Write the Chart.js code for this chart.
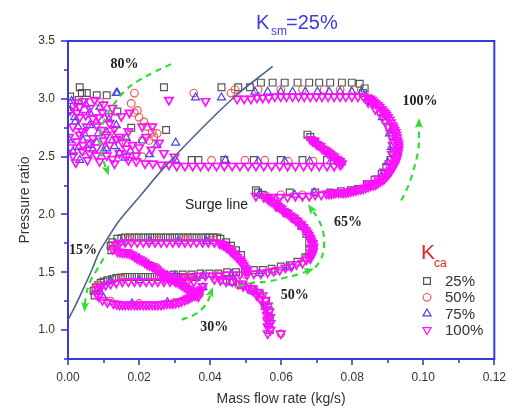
<!DOCTYPE html>
<html><head><meta charset="utf-8">
<script src="https://cdn.jsdelivr.net/npm/chart.js@4.4.0/dist/chart.umd.min.js"></script>
<style>html,body{margin:0;padding:0;background:#fff;}canvas{display:block;}</style>
</head><body>
<canvas id="c" width="517" height="410"></canvas>
<script>
// ---------- data ----------
const seriesNames = ['25%', '50%', '75%', '100%'];
const xTickLabels = ['0.00','0.02','0.04','0.06','0.08','0.10','0.12'];
const yTickLabels = ['1.0','1.5','2.0','2.5','3.0','3.5'];

// surge line [mass flow, pressure ratio]
const surgeLine = [[0.0000,1.09],[0.0019,1.20],[0.0042,1.35],[0.0067,1.52],[0.0089,1.68],[0.0117,1.82],[0.0145,1.95],[0.0192,2.12],[0.0284,2.45],[0.0459,2.99],[0.0576,3.28]];

// K_ca = 25% (squares)
const kca25 = [
[.0033,3.10],[.0270,3.10],[.0432,3.10],[.0479,3.10],[.0512,3.10],[.0543,3.14],[.0576,3.14],[.0610,3.14],[.0646,3.14],[.0679,3.14],[.0707,3.14],[.0738,3.14],[.0771,3.14],[.0799,3.14],[.0821,3.13],
[.0039,3.05],[.0053,3.05],[.0006,3.02],[.0081,3.03],[.0109,3.03],[.0139,2.89],[.0178,2.75],[.0276,2.73],[.0017,2.93],[.0030,2.99],
[.0841,2.26],[.0863,2.30],[.0883,2.35],[.0896,2.41],[.0908,2.47],[.0916,2.54],[.0916,2.61],[.0913,2.68],[.0905,2.75],[.0894,2.82],[.0880,2.89],[.0863,2.95],[.0846,2.99],[.0830,3.05],[.0835,3.09],
[.0535,2.19],[.0624,2.19],[.0696,2.19],[.0738,2.19],[.0768,2.20],[.0796,2.21],[.0816,2.22],[.0529,2.21],
[.0548,2.17],[.0571,2.12],[.0593,2.06],[.0615,2.01],[.0638,1.96],[.0657,1.90],[.0671,1.83],[.0679,1.76],[.0679,1.69],[.0668,1.63],
[.0298,1.48],[.0323,1.48],[.0348,1.48],[.0373,1.49],[.0398,1.49],[.0423,1.49],[.0448,1.50],[.0473,1.50],[.0498,1.51],[.0523,1.52],[.0548,1.52],[.0573,1.53],[.0599,1.55],[.0624,1.56],[.0646,1.59],
[.0568,1.00],[.0568,1.09],[.0565,1.17],[.0557,1.25],[.0540,1.31],[.0518,1.35],[.0493,1.39],[.0465,1.42],[.0437,1.43],
[.0120,1.73],[.0125,1.76],[.0139,1.79],[.0161,1.80],[.0187,1.80],[.0212,1.80],[.0237,1.80],[.0262,1.80],[.0287,1.80],[.0312,1.80],[.0337,1.80],[.0362,1.80],[.0387,1.80],[.0409,1.80],[.0429,1.79],[.0445,1.76],[.0459,1.73],[.0473,1.69],[.0487,1.65],
[.0150,1.795],[.0174,1.80],[.0199,1.80],[.0225,1.80],[.0250,1.80],[.0275,1.80],[.0300,1.80],[.0325,1.80],[.0350,1.80],[.0375,1.80],[.0398,1.80],[.0420,1.80],
[.0362,1.46],[.0337,1.46],[.0312,1.46],[.0287,1.46],[.0262,1.46],[.0237,1.46],[.0212,1.46],[.0187,1.46],[.0161,1.46],[.0136,1.45],[.0111,1.43],[.0092,1.41],[.0078,1.37],[.0072,1.34],[.0075,1.30],[.0122,1.69],
[.0149,1.455],[.0174,1.46],[.0199,1.46],[.0225,1.46],[.0250,1.46],[.0275,1.46],[.0300,1.46],[.0325,1.46],[.0350,1.46],[.0124,1.44],[.0100,1.42],[.0085,1.39],
[.0674,2.69],[.0682,2.67],[.0696,2.63],
[.0348,2.47],[.0367,2.47],[.0440,2.47],[.0523,2.47],[.0599,2.47],[.0660,2.47],[.0729,2.47],[.0760,2.46]
];

// K_ca = 50% (circles)
const kca50 = [
[.0187,3.05],[.0178,2.96],[.0195,2.90],[.0187,2.88],[.0200,2.84],[.0214,2.80],[.0223,2.76],[.0237,2.71],[.0242,2.67],[.0209,2.64],[.0228,2.64],[.0251,2.70],
[.0089,2.97],[.0164,2.62],[.0209,2.50],[.0042,2.55],[.0120,2.72],
[.0354,3.05],[.0459,3.05],[.0470,3.08],[.0535,3.08],[.0599,3.08],[.0660,3.08],[.0721,3.08],[.0766,3.08],[.0805,3.08],
[.0599,2.17],[.0660,2.17],[.0557,2.16],
[.0404,2.47],[.0498,2.47],[.0554,2.47],[.0620,2.46],[.0690,2.46],
[.0078,1.36],[.0084,1.39],[.0131,1.72],[.0136,1.74],
[.0599,0.97],
[.0340,1.46],[.0420,1.47],[.0500,1.48],[.0580,1.51],
[.0560,1.10],[.0540,1.28],[.0480,1.39],
[.0590,2.08],[.0650,1.93],[.0686,1.75],[.0670,1.62],
[.0170,1.78],[.0250,1.78],[.0330,1.78],[.0410,1.78],[.0460,1.70],
[.0150,1.44],[.0250,1.44],[.0330,1.44],[.0120,1.25],[.0200,1.23],[.0300,1.24],[.0370,1.31],
[.0170,1.66],[.0250,1.54],[.0330,1.38],
[.0690,2.64],[.0740,2.53],
[.0870,2.28],[.0905,2.40],[.0920,2.55],[.0915,2.70],[.0890,2.87],[.0850,3.00]
];

// K_ca = 75% (triangles)
const kca75 = [
[.0136,3.05],[.0139,3.05],[.0006,2.90],[.0019,2.84],[.0061,2.88],[.0028,2.76],[.0061,2.77],[.0109,2.71],[.0136,2.77],[.0003,2.64],[.0042,2.64],[.0081,2.62],[.0125,2.64],[.0164,2.66],[.0014,2.54],[.0070,2.56],[.0109,2.57],[.0145,2.53],[.0033,2.47],[.0209,2.64],[.0303,2.62],[.0250,2.60],
[.0010,2.98],[.0050,2.95],[.0090,2.93],[.0020,2.80],[.0080,2.80],[.0115,2.82],[.0045,2.70],[.0085,2.70],[.0030,2.58],[.0060,2.60],[.0100,2.55],[.0130,2.59],[.0175,2.55],[.0160,2.49],[.0230,2.52],
[.0359,3.01],[.0432,3.01],[.0526,3.06],[.0562,3.06],[.0599,3.06],[.0632,3.06],[.0668,3.06],[.0702,3.06],[.0735,3.06],[.0766,3.06],[.0799,3.06],[.0827,3.06],
[.0303,2.47],[.0443,2.47],[.0535,2.46],[.0610,2.46],[.0680,2.46],[.0740,2.46],
[.0638,2.17],[.0693,2.19],[.0540,2.18],
[.0880,2.32],[.0900,2.45],[.0910,2.58],[.0905,2.70],[.0885,2.84],[.0855,2.97],
[.0700,2.61],[.0750,2.49],[.0770,2.45],
[.0600,2.06],[.0660,1.90],[.0690,1.74],[.0680,1.64],
[.0300,1.47],[.0380,1.47],[.0460,1.48],[.0540,1.49],[.0620,1.54],
[.0565,1.05],[.0555,1.20],[.0525,1.33],[.0460,1.41],
[.0150,1.76],[.0230,1.77],[.0310,1.77],[.0390,1.77],[.0450,1.71],[.0500,1.55],
[.0120,1.42],[.0200,1.43],[.0300,1.43],[.0100,1.28],[.0180,1.23],[.0280,1.24],[.0360,1.31],[.0380,1.37],
[.0200,1.62],[.0280,1.47],[.0350,1.33],[.0090,1.33]
];

// K_ca = 100% (inverted triangles)
const kca100 = [
[.0562,.97],[.0562,1.03],[.0562,1.08],[.0560,1.13],[.0557,1.18],[.0551,1.22],[.0543,1.27],[.0532,1.30],[.0521,1.34],[.0507,1.36],[.0493,1.38],[.0479,1.40],[.0462,1.42],[.0445,1.42],[.0429,1.43],[.0412,1.44],[.0599,0.97],
[.0570,1.00],[.0570,1.06],[.0569,1.11],[.0567,1.16],[.0563,1.21],[.0556,1.26],[.0547,1.30],[.0535,1.33],[.0520,1.36],[.0505,1.38],[.0490,1.40],
[.0270,1.45],[.0290,1.45],[.0309,1.46],[.0329,1.46],[.0348,1.46],[.0367,1.47],[.0387,1.47],[.0406,1.47],[.0426,1.47],[.0445,1.48],[.0465,1.48],[.0484,1.48],[.0504,1.48],[.0523,1.49],[.0543,1.49],[.0562,1.50],[.0579,1.51],[.0596,1.52],[.0612,1.54],[.0629,1.55],[.0643,1.57],
[.0557,2.15],[.0568,2.12],[.0579,2.10],[.0590,2.07],[.0601,2.05],[.0612,2.02],[.0624,1.99],[.0635,1.97],[.0646,1.94],[.0657,1.91],[.0665,1.87],[.0674,1.84],[.0679,1.80],[.0685,1.77],[.0688,1.74],[.0688,1.70],[.0685,1.67],[.0679,1.63],[.0671,1.61],[.0660,1.58],
[.0562,2.14],[.0574,2.11],[.0585,2.08],[.0596,2.06],[.0607,2.03],[.0618,2.01],[.0630,1.98],[.0641,1.95],[.0652,1.92],[.0662,1.89],[.0670,1.86],[.0677,1.82],[.0682,1.79],[.0688,1.75],[.0691,1.72],[.0690,1.68],[.0687,1.65],[.0682,1.62],
[.0125,1.70],[.0134,1.74],[.0145,1.75],[.0161,1.76],[.0178,1.76],[.0195,1.76],[.0212,1.76],[.0228,1.76],[.0245,1.76],[.0262,1.76],[.0278,1.76],[.0295,1.76],[.0312,1.76],[.0329,1.76],[.0345,1.76],[.0362,1.76],[.0379,1.76],[.0395,1.76],[.0412,1.76],[.0426,1.75],[.0437,1.74],[.0448,1.71],[.0459,1.68],[.0471,1.65],[.0482,1.61],[.0490,1.58],[.0498,1.54],[.0504,1.51],
[.0432,1.745],[.0443,1.725],[.0454,1.70],[.0465,1.665],[.0476,1.63],[.0486,1.595],[.0494,1.56],[.0501,1.525],
[.0139,1.68],[.0153,1.67],[.0167,1.67],[.0181,1.65],[.0195,1.62],[.0209,1.60],[.0223,1.57],[.0237,1.55],[.0251,1.52],[.0264,1.49],[.0278,1.47],[.0292,1.44],[.0306,1.42],[.0320,1.39],[.0334,1.36],[.0348,1.34],[.0359,1.31],[.0367,1.29],
[.0146,1.675],[.0160,1.67],[.0174,1.66],[.0188,1.635],[.0202,1.61],[.0216,1.585],[.0230,1.56],[.0244,1.535],[.0258,1.505],[.0271,1.48],[.0285,1.455],[.0299,1.43],[.0313,1.405],[.0327,1.375],[.0341,1.35],[.0354,1.325],[.0363,1.30],
[.0354,1.42],[.0337,1.42],[.0320,1.42],[.0303,1.42],[.0287,1.42],[.0270,1.42],[.0253,1.42],[.0237,1.42],[.0220,1.42],[.0203,1.42],[.0187,1.42],[.0170,1.42],[.0153,1.42],[.0136,1.41],[.0120,1.40],[.0106,1.39],[.0092,1.37],[.0084,1.35],[.0081,1.31],[.0086,1.29],[.0097,1.26],[.0111,1.24],[.0128,1.23],[.0145,1.22],[.0161,1.22],[.0178,1.22],[.0195,1.22],[.0212,1.22],[.0228,1.22],[.0245,1.22],[.0262,1.22],[.0278,1.23],[.0295,1.23],[.0312,1.24],[.0329,1.26],[.0342,1.28],[.0356,1.30],[.0367,1.33],[.0376,1.35],[.0379,1.38],
[.0137,1.225],[.0153,1.22],[.0170,1.22],[.0187,1.22],[.0203,1.22],[.0220,1.22],[.0237,1.22],[.0253,1.22],[.0270,1.225],[.0287,1.23],[.0303,1.235],[.0320,1.25],[.0336,1.27],[.0349,1.29],[.0362,1.315],[.0372,1.34],
[.0529,2.16],[.0551,2.15],[.0573,2.15],[.0596,2.15],[.0618,2.15],[.0640,2.16],[.0660,2.16],[.0679,2.16],[.0696,2.17],[.0713,2.17],[.0727,2.18],[.0741,2.18],[.0754,2.19],[.0768,2.19],[.0782,2.19],[.0796,2.20],[.0810,2.21],[.0824,2.22],[.0838,2.23],
[.0734,2.18],[.0748,2.185],[.0761,2.19],[.0775,2.19],[.0789,2.195],[.0803,2.205],[.0817,2.215],[.0831,2.225],[.0845,2.24],
[.0852,2.25],[.0866,2.26],[.0880,2.29],[.0891,2.31],[.0902,2.35],[.0910,2.38],[.0919,2.43],[.0924,2.47],[.0927,2.51],[.0930,2.56],[.0930,2.60],[.0927,2.64],[.0924,2.69],[.0919,2.73],[.0913,2.77],[.0905,2.82],[.0896,2.86],[.0888,2.89],[.0877,2.93],[.0866,2.96],[.0855,2.99],[.0844,3.01],[.0832,3.02],
[.0845,2.27],[.0872,2.31],[.0890,2.37],[.0905,2.44],[.0912,2.52],[.0914,2.60],[.0910,2.68],[.0900,2.76],[.0885,2.84],[.0865,2.91],[.0845,2.97],
[.0859,2.255],[.0873,2.275],[.0886,2.30],[.0897,2.33],[.0906,2.365],[.0915,2.405],[.0922,2.45],[.0926,2.49],[.0929,2.535],[.0930,2.58],[.0929,2.62],[.0926,2.665],[.0922,2.71],[.0916,2.75],[.0909,2.795],[.0900,2.84],[.0892,2.875],[.0883,2.91],[.0872,2.945],[.0860,2.975],[.0850,3.00],
[.0816,3.02],[.0799,3.02],[.0782,3.02],[.0766,3.02],[.0749,3.02],[.0732,3.02],[.0715,3.02],[.0699,3.02],[.0682,3.02],[.0665,3.02],[.0649,3.02],[.0632,3.02],[.0615,3.02],[.0599,3.02],[.0582,3.02],[.0565,3.01],[.0548,3.01],[.0532,3.01],[.0515,3.00],[.0496,3.00],[.0476,3.00],[.0387,2.98],[.0284,2.99],
[.0682,2.65],[.0693,2.63],[.0704,2.60],[.0715,2.57],[.0727,2.55],[.0738,2.52],[.0749,2.50],[.0760,2.47],[.0771,2.44],[.0766,2.43],
[.0688,2.64],[.0699,2.61],[.0710,2.59],[.0721,2.56],[.0732,2.53],[.0743,2.51],[.0755,2.48],[.0766,2.46],
[.0749,2.42],[.0729,2.42],[.0707,2.42],[.0685,2.42],[.0663,2.42],[.0640,2.42],[.0618,2.42],[.0596,2.42],[.0573,2.42],[.0551,2.42],[.0529,2.42],[.0507,2.42],[.0484,2.42],[.0462,2.42],[.0440,2.42],[.0418,2.42],[.0395,2.42],[.0373,2.42],[.0351,2.42],[.0329,2.42],[.0306,2.42],[.0284,2.43],[.0262,2.43],[.0239,2.44],[.0217,2.44],
[.0006,2.90],[.0033,2.93],[.0061,2.92],[.0033,2.84],[.0070,2.83],[.0097,2.88],[.0014,2.76],[.0053,2.76],[.0081,2.77],[.0117,2.79],[.0003,2.67],[.0033,2.69],[.0070,2.66],[.0109,2.69],[.0145,2.67],[.0006,2.58],[.0042,2.60],[.0081,2.58],[.0117,2.60],[.0153,2.62],[.0181,2.60],[.0014,2.51],[.0061,2.53],[.0109,2.51],[.0145,2.53],[.0192,2.51],[.0209,2.76],[.0237,2.76],[.0220,2.67],[.0164,2.50],[.0192,2.46],[.0022,2.45],[.0089,2.46],[.0131,2.44],[.0256,2.62],[.0173,2.88],
[.0020,2.97],[.0045,2.98],[.0075,2.99],[.0100,2.95],[.0125,2.92],[.0150,2.85],[.0025,2.88],[.0050,2.86],[.0085,2.84],[.0115,2.85],[.0040,2.72],[.0095,2.73],[.0130,2.74],[.0170,2.72],[.0025,2.63],[.0060,2.62],[.0100,2.64],[.0135,2.65],[.0165,2.57],[.0200,2.58],[.0235,2.56],[.0040,2.55],[.0080,2.51],[.0125,2.48],[.0170,2.47],[.0055,2.47],[.0270,2.53],[.0300,2.50]
];

// green guide arrows (trajectory direction)
const arrow80  = [[.0290,3.30],[.0242,3.23],[.0200,3.16],[.0164,3.08],[.0131,2.96],[.0103,2.82],[.0089,2.67],[.0095,2.51],[.0111,2.37]];
const arrow100 = [[.0938,2.12],[.0958,2.25],[.0974,2.40],[.0986,2.56],[.0988,2.69],[.0988,2.80]];
const arrow65  = [[.0696,1.54],[.0713,1.62],[.0721,1.74],[.0718,1.85],[.0704,1.96],[.0682,2.06]];
const arrow50  = [[.0479,1.38],[.0521,1.41],[.0562,1.42],[.0607,1.45],[.0646,1.48],[.0682,1.52]];
const arrow15  = [[.0100,1.62],[.0081,1.52],[.0061,1.41],[.0050,1.29],[.0047,1.19]];
const arrow30  = [[.0320,1.09],[.0354,1.13],[.0379,1.19],[.0395,1.26],[.0404,1.34]];

// speed annotations [text, x, y]
const speedLabels = [['80%',.0159,3.30],['100%',.0991,2.98],['65%',.0788,1.93],['50%',.0638,1.30],['30%',.0412,1.02],['15%',.0042,1.69]];
const surgeLabel = ['Surge line', .0418, 2.08];

// ---------- chart ----------
const toXY = a => a.map(p => ({x: p[0], y: p[1]}));
const colors = {s:'#555555', c:'#ee5a5a', t:'#4545e6', v:'#ff10ff', g:'#33dd33', frame:'#3a3ad8'};

function arrowDs(d){
  return {data: toXY(d), showLine: true, pointRadius: 0, borderColor: colors.g, borderWidth: 2.2,
          borderDash: [6,5], tension: 0.4, order: 0, arrow: true};
}

const datasets = [
  {label: seriesNames[0], data: toXY(kca25), pointStyle: 'rect', pointRadius: 4.8, borderColor: colors.s, backgroundColor: 'rgba(0,0,0,0)', pointBorderWidth: 1.2, order: 4},
  {label: seriesNames[1], data: toXY(kca50), pointStyle: 'circle', pointRadius: 3.8, borderColor: colors.c, backgroundColor: 'rgba(0,0,0,0)', pointBorderWidth: 1.2, order: 3},
  {label: seriesNames[2], data: toXY(kca75), pointStyle: 'triangle', pointRadius: 4.6, borderColor: colors.t, backgroundColor: 'rgba(0,0,0,0)', pointBorderWidth: 1.2, order: 2},
  {label: seriesNames[3], data: toXY(kca100), pointStyle: 'triangle', rotation: 180, pointRadius: 4.8, borderColor: colors.v, backgroundColor: 'rgba(0,0,0,0)', pointBorderWidth: 1.7, order: 1},
  {label: 'surge', data: toXY(surgeLine), showLine: true, pointRadius: 0, borderColor: '#4a6688', borderWidth: 1.6, tension: 0.4, order: 0},
  arrowDs(arrow80), arrowDs(arrow100), arrowDs(arrow65), arrowDs(arrow50), arrowDs(arrow15), arrowDs(arrow30)
];

const SANS = "'Liberation Sans', Arial, sans-serif";
const SERIF = "'Liberation Serif', 'Times New Roman', serif";

function drawMarker(ctx, style, x, y, color){
  ctx.save(); ctx.strokeStyle = color; ctx.lineWidth = 1.2; ctx.beginPath();
  if (style === 's') { ctx.rect(x-3.4, y-3.4, 6.8, 6.8); }
  else if (style === 'c') { ctx.arc(x, y, 3.8, 0, Math.PI*2); }
  else if (style === 't') { ctx.moveTo(x, y-4.6); ctx.lineTo(x+4, y+2.3); ctx.lineTo(x-4, y+2.3); ctx.closePath(); }
  else { ctx.moveTo(x, y+4.6); ctx.lineTo(x+4, y-2.3); ctx.lineTo(x-4, y-2.3); ctx.closePath(); }
  ctx.stroke(); ctx.restore();
}

const decor = {
  id: 'decor',
  afterDraw(chart){
    const {ctx, chartArea: a, scales: {x, y}} = chart;
    ctx.save();
    // frame
    ctx.strokeStyle = colors.frame; ctx.lineWidth = 2;
    ctx.strokeRect(a.left, a.top, a.right - a.left, a.bottom - a.top);
    // tick marks
    ctx.lineWidth = 1.6;
    y.ticks.forEach(t => {
      const py = Math.round(y.getPixelForValue(t.value));
      const major = Math.abs(t.value*2 - Math.round(t.value*2)) < 1e-6;
      ctx.beginPath(); ctx.moveTo(a.left, py); ctx.lineTo(a.left - (major ? 7 : 4), py); ctx.stroke();
    });
    x.ticks.forEach(t => {
      const px = Math.round(x.getPixelForValue(t.value));
      const major = Math.round(t.value*100) % 2 === 0;
      ctx.beginPath(); ctx.moveTo(px, a.bottom); ctx.lineTo(px, a.bottom + (major ? 6 : 4)); ctx.stroke();
    });
    // arrowheads
    chart.data.datasets.forEach((ds, i) => {
      if (!ds.arrow) return;
      const pts = chart.getDatasetMeta(i).data;
      const p1 = pts[pts.length-1], p0 = pts[pts.length-2];
      const ang = Math.atan2(p1.y - p0.y, p1.x - p0.x);
      ctx.save(); ctx.translate(p1.x, p1.y); ctx.rotate(ang);
      ctx.fillStyle = colors.g; ctx.beginPath();
      ctx.moveTo(4, 0); ctx.lineTo(-6, -4); ctx.lineTo(-4, 0); ctx.lineTo(-6, 4); ctx.closePath(); ctx.fill();
      ctx.restore();
    });
    // speed labels
    ctx.fillStyle = '#222'; ctx.font = "bold 14px " + SERIF; ctx.textAlign = 'center'; ctx.textBaseline = 'middle';
    speedLabels.forEach(l => ctx.fillText(l[0], x.getPixelForValue(l[1]), y.getPixelForValue(l[2])));
    ctx.font = "14px " + SANS;
    ctx.fillText(surgeLabel[0], x.getPixelForValue(surgeLabel[1]), y.getPixelForValue(surgeLabel[2]));
    // axis titles
    ctx.fillStyle = '#333'; ctx.font = "14px " + SANS;
    ctx.fillText('Mass flow rate (kg/s)', (a.left + a.right)/2, 399);
    ctx.save(); ctx.translate(25, (a.top + a.bottom)/2); ctx.rotate(-Math.PI/2);
    ctx.fillText('Pressure ratio', 0, 0); ctx.restore();
    // title K_sm=25%
    ctx.fillStyle = '#3b3be0'; ctx.textAlign = 'left'; ctx.textBaseline = 'alphabetic';
    ctx.font = "20px " + SANS; ctx.fillText('K', 256, 29);
    ctx.font = "12px " + SANS; ctx.fillText('sm', 271, 35);
    ctx.font = "20px " + SANS; ctx.fillText('=25%', 286, 29);
    // legend
    const lx = a.left + 359;
    ctx.fillStyle = '#e32424';
    ctx.font = "21px " + SANS; ctx.fillText('K', lx - 6, 259);
    ctx.font = "12px " + SANS; ctx.fillText('ca', lx + 7, 267);
    const styles = ['s','c','t','v'], cols = [colors.s, colors.c, colors.t, colors.v];
    ctx.font = "15px " + SANS; ctx.textBaseline = 'middle';
    seriesNames.forEach((n, i) => {
      const ry = 281 + i*16.3;
      drawMarker(ctx, styles[i], lx, ry, cols[i]);
      ctx.fillStyle = '#333'; ctx.fillText(n, lx + 18, ry + 1);
    });
    ctx.restore();
  }
};

new Chart(document.getElementById('c'), {
  type: 'scatter',
  data: {datasets},
  plugins: [decor],
  options: {
    responsive: false, animation: false, devicePixelRatio: 1,
    layout: {padding: {left: 0, right: 18, top: 41, bottom: 0}},
    plugins: {legend: {display: false}, tooltip: {enabled: false}},
    scales: {
      x: {type: 'linear', min: 0, max: 0.12,
          afterFit: s => { s.height = 51; },
          grid: {display: false, drawTicks: false}, border: {display: false},
          ticks: {stepSize: 0.01, autoSkip: false, maxRotation: 0, padding: 11, color: '#333',
                  font: {family: SANS, size: 12},
                  callback: v => { const k = Math.round(v*100); return k % 2 === 0 ? xTickLabels[k/2] : ''; }}},
      y: {type: 'linear', min: 0.75, max: 3.5,
          afterFit: s => { s.width = 68; },
          grid: {display: false, drawTicks: false}, border: {display: false},
          ticks: {stepSize: 0.25, autoSkip: false, padding: 13, color: '#333',
                  font: {family: SANS, size: 12},
                  callback: v => { const k = Math.round(v*2); return (Math.abs(v*2-k) < 1e-6 && k >= 2) ? yTickLabels[k-2] : ''; }}}
    }
  }
});
</script>
</body></html>
